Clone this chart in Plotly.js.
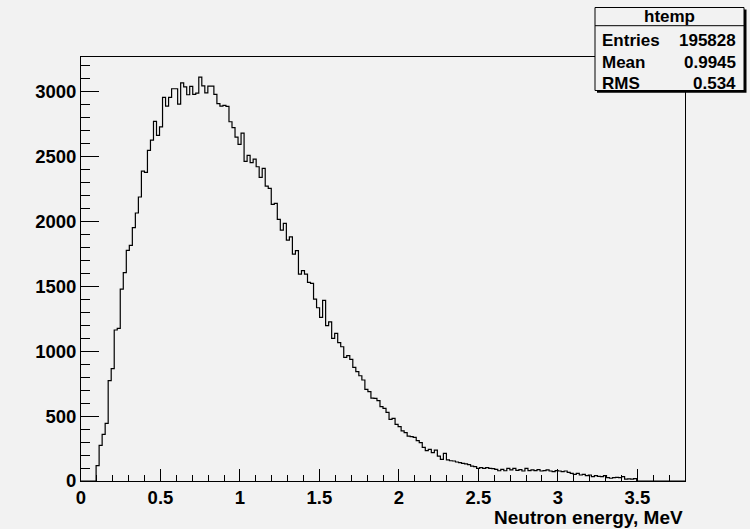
<!DOCTYPE html>
<html><head><meta charset="utf-8">
<script src="https://cdn.plot.ly/plotly-3.0.1.min.js"></script>
<style>html,body{margin:0;padding:0;background:#f2f2f2}#chart{width:750px;height:529px}</style>
</head><body><div id="chart"></div>
<script>
// ---- data ----
const histName = 'htemp';
const xTitle = 'Neutron energy, MeV';
const xMin = 0, xMax = 3.8, nBins = 200;
const counts = [
  0,0,0,0,0,118,274,359,444,772,
  864,1162,1174,1477,1603,1774,1813,1949,2062,2185,
  2385,2374,2544,2623,2767,2659,2725,2951,2885,2951,
  3018,3018,2900,3064,3033,2972,3036,2975,2985,3107,
  3040,2987,3038,3038,2975,2903,2885,2890,2882,2764,
  2719,2646,2590,2676,2460,2505,2449,2477,2418,2336,
  2405,2269,2251,2128,2136,2013,1931,1982,1854,1879,
  1746,1772,1592,1618,1592,1528,1521,1400,1333,1259,
  1390,1196,1225,1097,1136,1064,1033,951,964,936,
  874,841,810,777,705,687,638,636,618,572,
  559,528,474,482,436,418,385,372,346,341,
  336,310,295,259,233,244,218,238,192,167,
  213,162,156,154,146,141,136,131,126,115,
  110,97,103,97,103,97,95,90,79,90,
  79,97,85,97,82,87,77,97,80,85,
  80,88,77,80,85,77,72,80,77,72,
  77,67,59,51,59,46,51,41,46,33,
  41,36,33,41,26,21,26,28,26,33,
  15,17,15,18,0,0,0,0,0,0,
  0,0,0,0,0,0,0,0,0,0
];
const statLabels = ['Entries', 'Mean', 'RMS'];
const statValues = ['195828', '0.9945', '0.534'];
const yMaxFactor = 1.05;

// ---- build histogram step line ----
const bw = (xMax - xMin) / nBins;
const xs = [xMin], ys = [counts[0]];
counts.forEach((c, i) => { xs.push(xMin + (i + 0.5) * bw); ys.push(c); });
xs.push(xMax); ys.push(counts[counts.length - 1]);
const yTop = Math.max(...counts) * yMaxFactor;

// ---- geometry helpers (pixel -> paper) ----
const W = 750, H = 529;
const M = {l: 81, r: 65, t: 57, b: 48};
const PW = W - M.l - M.r, PH = H - M.t - M.b;
const fx = px => (px - M.l) / PW;
const fy = py => (H - M.b - py) / PH;

const bg = '#f2f2f2';
const fontFam = '"Liberation Sans", Arial, Helvetica, sans-serif';

const box = {x0: 595, x1: 744, y0: 7.5, y1: 90.5, sep: 25.7};
const shapes = [
  {type: 'rect', xref: 'paper', yref: 'paper', layer: 'above',
   x0: fx(box.x0 + 2), x1: fx(box.x1 + 2.5), y0: fy(box.y1 + 2.2), y1: fy(box.y0 + 2),
   fillcolor: '#000', line: {width: 0}},
  {type: 'rect', xref: 'paper', yref: 'paper', layer: 'above',
   x0: fx(box.x0), x1: fx(box.x1), y0: fy(box.y1), y1: fy(box.y0),
   fillcolor: bg, line: {color: '#000', width: 1}},
  {type: 'line', xref: 'paper', yref: 'paper', layer: 'above',
   x0: fx(box.x0), x1: fx(box.x1), y0: fy(box.sep), y1: fy(box.sep),
   line: {color: '#000', width: 1}}
];

const statFont = {family: fontFam, size: 17, color: '#000', weight: 'bold'};
const rowsY = [40, 62, 83];
const annotations = [
  {xref: 'paper', yref: 'paper', x: fx((box.x0 + box.x1) / 2), y: fy(16.5),
   xanchor: 'center', yanchor: 'middle', showarrow: false, text: histName, font: statFont}
];
statLabels.forEach((lab, i) => {
  annotations.push({xref: 'paper', yref: 'paper', x: fx(600), y: fy(rowsY[i]),
    xanchor: 'left', yanchor: 'middle', showarrow: false, text: lab, font: statFont});
  annotations.push({xref: 'paper', yref: 'paper', x: fx(738), y: fy(rowsY[i]),
    xanchor: 'right', yanchor: 'middle', showarrow: false, text: statValues[i], font: statFont});
});
annotations.push({xref: 'paper', yref: 'paper', x: 1, y: fy(517),
  xanchor: 'right', yanchor: 'middle', showarrow: false, text: xTitle,
  font: {family: fontFam, size: 19, color: '#000', weight: 'bold'}});

const tickFont = {family: fontFam, size: 18.5, color: '#000', weight: 'bold'};

const trace = {
  type: 'scatter', mode: 'lines', x: xs, y: ys,
  line: {shape: 'hvh', color: '#000', width: 1.2},
  hoverinfo: 'skip', showlegend: false
};

const layout = {
  width: W, height: H, margin: M,
  paper_bgcolor: bg, plot_bgcolor: bg,
  showlegend: false,
  xaxis: {
    range: [xMin, xMax], dtick: 0.5, tick0: 0,
    ticks: 'inside', ticklen: 12.5, tickwidth: 1, tickcolor: '#000',
    minor: {dtick: 0.1, ticks: 'inside', ticklen: 6.5, tickcolor: '#000', tickwidth: 1},
    showgrid: false, zeroline: false,
    showline: true, linecolor: '#000', linewidth: 1, mirror: true,
    tickfont: tickFont
  },
  yaxis: {
    range: [0, yTop], dtick: 500, tick0: 0, tickformat: 'd',
    ticks: 'inside', ticklen: 18, tickwidth: 1, tickcolor: '#000',
    minor: {dtick: 100, ticks: 'inside', ticklen: 9, tickcolor: '#000', tickwidth: 1},
    showgrid: false, zeroline: false,
    showline: true, linecolor: '#000', linewidth: 1, mirror: true,
    tickfont: tickFont
  },
  shapes: shapes,
  annotations: annotations
};

Plotly.newPlot('chart', [trace], layout, {displayModeBar: false, staticPlot: true});
</script>
</body></html>
